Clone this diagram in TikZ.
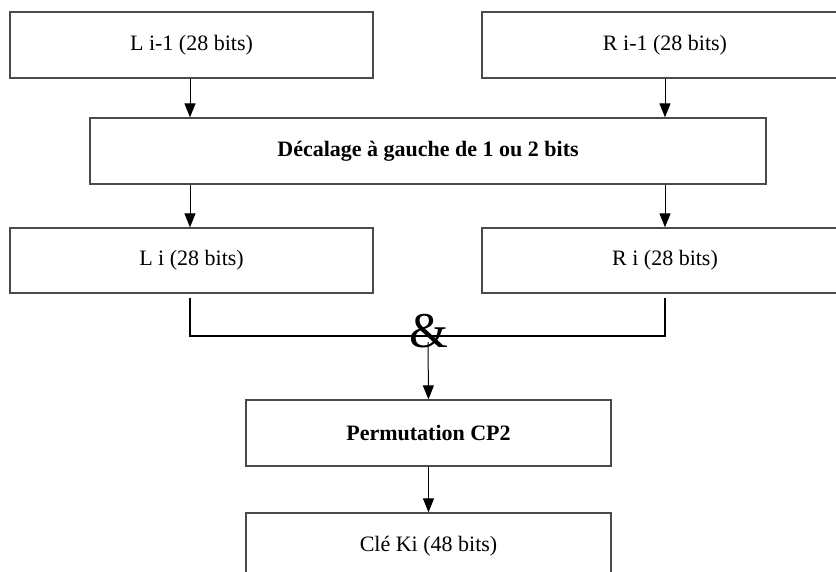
\documentclass[tikz,border=0pt]{standalone}
\usepackage{fontspec}
\setmainfont{Liberation Serif}
\usepackage{xcolor}
\usepackage{tikz}
\usetikzlibrary{positioning,arrows.meta}
\definecolor{ink}{HTML}{000000}
\definecolor{frame}{HTML}{4A4A4A}

\begin{document}
\begin{tikzpicture}[x=1pt,y=-1pt,
  box/.style={draw=frame,line width=1.3pt,inner sep=0pt,font=\fontsize{22}{26}\selectfont},
  arr/.style={draw=ink,line width=1pt,-{Triangle[length=14pt,width=11pt]}},
  wire/.style={draw=ink,line width=1.1pt}]
  \clip (0,0) rectangle (836,571);
  \fill[white] (0,0) rectangle (836,571);
  % upper halves of the key
  \node[box,minimum width=363pt,minimum height=66pt] (Lprev) at (191.5,45) {L i-1 (28 bits)};
  \node[box,minimum width=366pt,minimum height=66pt] (Rprev) at (665,45) {R i-1 (28 bits)};
  \node[box,minimum width=676pt,minimum height=66pt,font=\fontsize{22}{26}\selectfont\bfseries] (shift) at (428,151) {Décalage à gauche de 1 ou 2 bits};
  \node[box,minimum width=363pt,minimum height=65pt] (Li) at (191.5,260.5) {L i (28 bits)};
  \node[box,minimum width=366pt,minimum height=65pt] (Ri) at (665,260.5) {R i (28 bits)};
  \node[box,minimum width=365pt,minimum height=66pt,font=\fontsize{22}{26}\selectfont\bfseries] (perm) at (428.5,433) {Permutation CP2};
  \node[box,minimum width=365pt,minimum height=66pt] (cle) at (428.5,546) {Clé Ki (48 bits)};
  \coordinate (xl) at (190,0);
  \draw[arr] (Lprev.south -| xl) -- (shift.north -| xl);
  \draw[arr] (Rprev.south) -- (shift.north -| Rprev.south);
  \draw[arr] (shift.south -| xl) -- (Li.north -| xl);
  \draw[arr] (shift.south -| Ri.north) -- (Ri.north);
  % joining the two halves
  \coordinate (join) at (428,336);
  \draw[wire] ([yshift=-4pt]Li.south -| xl) -- (join -| xl) -- (join -| Ri.south) -- ([yshift=-4pt]Ri.south);
  \draw[arr] ([yshift=-6pt]join) -- (perm.north);
  \node[font=\fontsize{50}{50}\selectfont,inner sep=0pt,draw=none,text=ink] (amp) at (429,331) {\&};
  \draw[arr] (perm.south) -- (cle.north);
\end{tikzpicture}
\end{document}
